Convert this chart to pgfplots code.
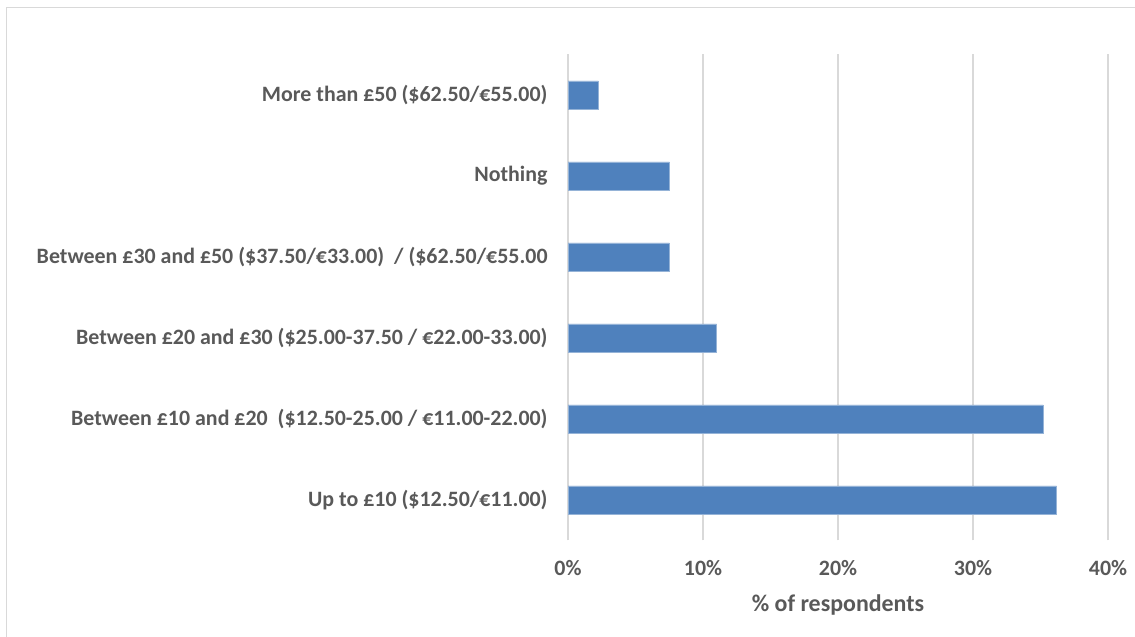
\documentclass[border=0pt]{standalone}
\usepackage{pgfplots}
\pgfplotsset{compat=1.18}
\usepackage{fontspec}
\setmainfont{Carlito}
\definecolor{barblue}{HTML}{4F81BD}
\definecolor{txtgrey}{HTML}{595959}
\definecolor{gridgrey}{HTML}{D9D9D9}
\begin{document}
\begin{tikzpicture}[x=1bp,y=1bp]
\useasboundingbox (0,0) rectangle (1135,637);
\draw[gridgrey, line width=1.5bp] (6.5,0) -- (6.5,629.5) -- (1135,629.5);
\begin{axis}[
  at={(568bp,96.5bp)}, anchor=south west,
  scale only axis, width=540bp, height=486bp,
  xbar, bar width=28bp,
  xmin=0, xmax=40, ymin=-0.5, ymax=5.5,
  xtick={0,10,20,30,40},
  xticklabel={\pgfmathprintnumber{\tick}\%},
  ytick={0,1,2,3,4,5},
  yticklabels={Up to £10 (\$12.50/€11.00),
    Between £10 and £20\ \ (\$12.50-25.00 / €11.00-22.00),
    Between £20 and £30 (\$25.00-37.50 / €22.00-33.00),
    Between £30 and £50 (\$37.50/€33.00)\ \ / (\$62.50/€55.00,
    Nothing,
    More than £50 (\$62.50/€55.00)},
  axis line style={draw=none},
  major tick length=0pt,
  xmajorgrids, major grid style={gridgrey, line width=1.2bp},
  ticklabel style={font=\fontsize{22}{24}\selectfont\bfseries, text=txtgrey},
  /pgf/number format/assume math mode=true,
  yticklabel style={xshift=-17bp},
  xticklabel style={anchor=center, yshift=-28bp},
  xlabel={\% of respondents},
  xlabel style={font=\fontsize{24}{26}\selectfont\bfseries, text=txtgrey,
    at={(rel axis cs:0.5,0)}, anchor=center, yshift=-64bp},
]
\addplot[fill=barblue, draw=barblue!60!white, line width=0.6bp] coordinates {
  (36.2,0) (35.2,1) (11.0,2) (7.5,3) (7.5,4) (2.25,5)
};
\end{axis}
\end{tikzpicture}
\end{document}
